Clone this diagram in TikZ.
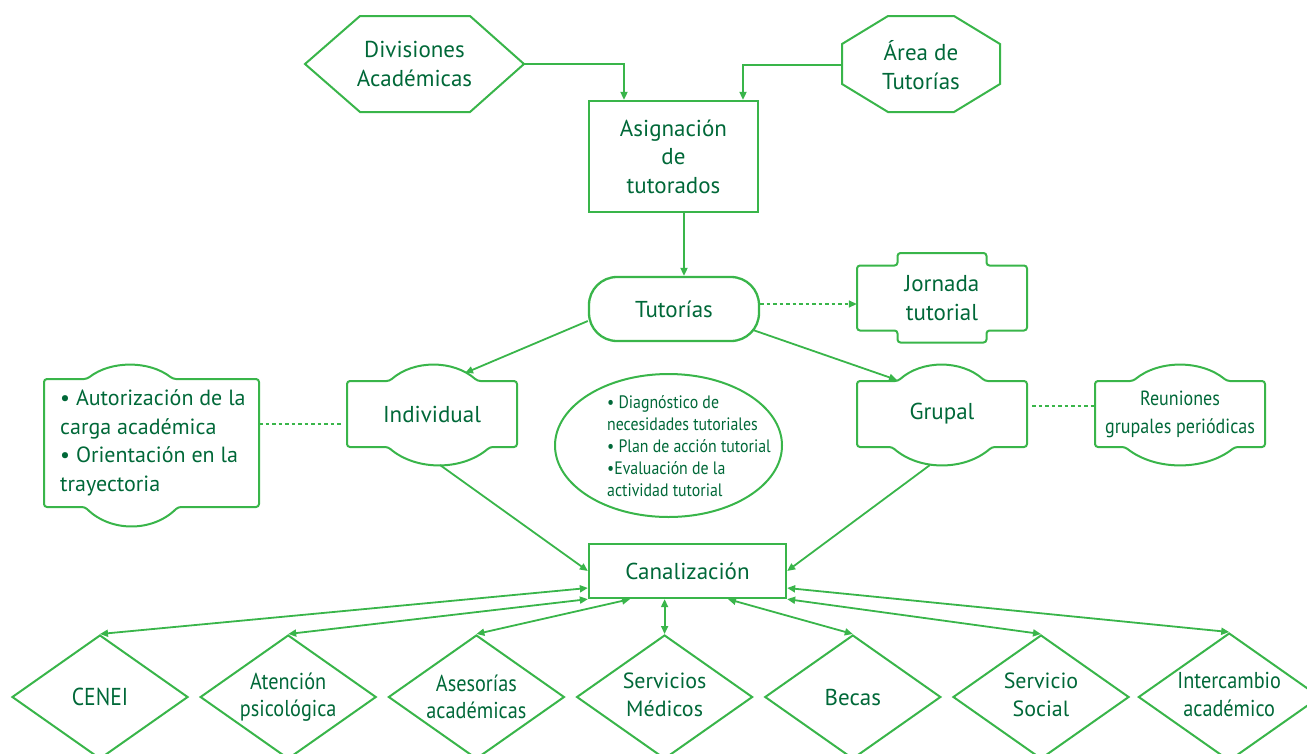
\documentclass[tikz,border=0pt]{standalone}
\usepackage{fontspec}
\setmainfont{PT Sans}
\newfontfamily\cond[FakeStretch=0.88]{PT Sans}
\usetikzlibrary{shapes.geometric,arrows.meta,calc}
\definecolor{lg}{RGB}{57,181,74}
\definecolor{tg}{RGB}{0,104,56}
% #1 node, #2 half width, #3 half height, #4 top bump centre, #5 top bump half width,
% #6 top bump height, #7 bottom bump centre, #8 bottom bump half width, #9 bottom bump height
\newcommand{\bumpbox}[9]{%
 \draw[ln, shift={(#1.center)}, rounded corners=3pt]
  (-#2,-#3) -- ({#4-#5},-#3)
  .. controls ({#4-0.45*#5},{-#3-1.33*#6}) and ({#4+0.45*#5},{-#3-1.33*#6}) .. ({#4+#5},-#3)
  -- (#2,-#3) -- (#2,#3) -- ({#7+#8},#3)
  .. controls ({#7+0.45*#8},{#3+1.33*#9}) and ({#7-0.45*#8},{#3+1.33*#9}) .. ({#7-#8},#3)
  -- (-#2,#3) -- cycle;}
\begin{document}
\begin{tikzpicture}[x=1pt,y=-1pt,
  ln/.style={draw=lg,line width=2pt},
  txt/.style={text=tg, align=center, inner sep=0pt, font=\fontsize{23}{28.5}\selectfont},
  box/.style={txt, draw=lg, line width=2.3pt},
  tip/.style={-{Triangle[length=8pt,width=7pt]}},
  arr/.style={draw=lg, line width=1.8pt, tip},
  barr/.style={draw=lg, line width=1.8pt, {Triangle[length=8pt,width=7pt]}-{Triangle[length=8pt,width=7pt]}},
  dsh/.style={draw=lg, line width=1.5pt, dash pattern=on 3.5pt off 3pt},
  dia/.style={diamond, draw=lg, line width=2pt, minimum width=176pt, minimum height=124pt, inner sep=0pt, shape aspect=1.42, text=tg, align=center, font=\fontsize{22}{27.5}\selectfont},
  cdia/.style={dia, font=\cond\fontsize{23}{27.5}\selectfont},
]
\useasboundingbox (0,0) rectangle (1307,753);

% top shapes
\node[txt, minimum width=219pt, minimum height=96pt] (div) at (414.5,64) {Divisiones\\Académicas};
\draw[ln, shift={(div.center)}] (-109.5,0) -- (-54.5,-48) -- (55.5,-48) -- (109.5,0) -- (55.5,48) -- (-54.5,48) -- cycle;

\node[txt, minimum width=158pt, minimum height=96pt] (area) at (921,65) {Área de\\Tutorías};
\draw[ln, shift={(area.center)}] (-33,-49) -- (33,-49) -- (79,-21) -- (79,19) -- (33,47) -- (-33,47) -- (-79,19) -- (-79,-21) -- cycle;

\node[box, minimum width=169pt, minimum height=111pt] (asig) at (673.5,156.5) {Asignación\\de\\tutorados};

\node[box, rounded corners=28pt, minimum width=170pt, minimum height=64pt] (tut) at (674,309) {Tutorías};

\node[txt, minimum width=170pt, minimum height=65pt] (jor) at (942,298) {Jornada\\tutorial};
\draw[ln, shift={(jor.center)}, rounded corners=3pt] (-85,-32.5) -- (-44.5,-32.5) -- (-44.5,-45) -- (44.5,-45) -- (44.5,-32.5) -- (85,-32.5) -- (85,32.5) -- (44.5,32.5) -- (44.5,44.5) -- (-44.5,44.5) -- (-44.5,32.5) -- (-85,32.5) -- cycle;

% middle row
\node[txt, minimum width=215pt, minimum height=128pt] (lb) at (151.5,443) {};
\node[txt, align=left, anchor=west, font=\fontsize{22}{28.5}\selectfont] (lbt) at (60,443) {• Autorización de la\\carga académica\\• Orientación en la\\trayectoria};
\bumpbox{lb}{107.5}{64}{-21.5}{43}{14}{-20}{46.5}{19}

\node[txt, minimum width=170pt, minimum height=66pt] (ind) at (432,414) {Individual};
\bumpbox{ind}{85}{33}{1.5}{44}{16}{7}{51}{18}

\node[txt, minimum width=170pt, minimum height=66pt] (grp) at (942,414) {Grupal};
\bumpbox{grp}{85}{33}{-0.5}{43.5}{16}{0}{50}{18}

\node[txt, minimum width=170pt, minimum height=66pt, font=\cond\fontsize{20.5}{28}\selectfont] (reu) at (1180,414) {Reuniones\\grupales periódicas};
\bumpbox{reu}{85}{33}{0}{47}{16}{0}{55}{18}

\node[ellipse, draw=lg, line width=2pt, minimum width=227pt, minimum height=143pt, inner sep=0pt] (ell) at (668.5,445.5) {};
\node[text=tg, align=left, anchor=west, inner sep=0pt, font=\cond\fontsize{18}{22}\selectfont] (elltxt) at (607,446) {• Diagnóstico de\\necesidades tutoriales\\• Plan de acción tutorial\\•Evaluación de la\\actividad tutorial};

\node[box, minimum width=197pt, minimum height=54pt] (can) at (687.5,571) {Canalización};

% diamonds
\node[cdia, font=\cond\fontsize{24.5}{27.5}\selectfont] (d1) at (100,697) {CENEI};
\node[cdia] (d2) at (288.2,697) {Atención\\psicológica};
\node[cdia] (d3) at (476.4,697) {Asesorías\\académicas};
\node[dia] (d4) at (664.6,697) {\raisebox{3pt}{\begin{tabular}{@{}c@{}}Servicios\\Médicos\end{tabular}}};
\node[dia, font=\fontsize{23}{27.5}\selectfont] (d5) at (852.8,697) {Becas};
\node[dia] (d6) at (1041,697) {\raisebox{-2pt}{\begin{tabular}{@{}c@{}}Servicio\\Social\end{tabular}}};
\node[cdia] (d7) at (1229.2,697) {\raisebox{-7pt}{\begin{tabular}{@{}c@{}}Intercambio\\académico\end{tabular}}};

% connectors
\draw[arr] (div.east) -| ([xshift=-49.5pt]asig.north);
\draw[arr] (area.west) -| ([xshift=69.5pt]asig.north);
\coordinate (a1) at ([xshift=10.5pt]asig.south);
\draw[arr] (a1) -- (a1 |- tut.north);
\coordinate (t1) at ([yshift=5pt]tut.east);
\draw[dsh, tip] (t1) -- (t1 -| jor.west);
\draw[arr] ([yshift=-12pt]tut.west) -- ([xshift=33pt,yshift=41pt]ind.center);
\draw[arr] ([xshift=79pt,yshift=-21pt]tut.center) -- ([xshift=-45pt,yshift=34pt]grp.center);
\coordinate (iL) at ([yshift=-10pt]ind.west);
\draw[dsh] (iL -| lb.east) -- ([xshift=-5pt]iL);
\coordinate (gR) at ([yshift=8pt]grp.east);
\draw[dsh] ([xshift=5pt]gR) -- (gR -| reu.west);
\draw[arr] ([xshift=8pt,yshift=-51pt]ind.center) -- (can.west);
\draw[arr] ([xshift=-12pt,yshift=-51pt]grp.center) -- (can.east);

\draw[barr] (d1.north) -- ([yshift=-17pt]can.west);
\draw[barr] (d2.north) -- (can.south west);
\draw[barr] (d3.north) -- ([xshift=-57.5pt]can.south);
\draw[barr] (d4.north) -- (d4.north |- can.south);
\draw[barr] (d5.north) -- ([xshift=40.5pt]can.south);
\draw[barr] (d6.north) -- (can.south east);
\draw[barr] (d7.north) -- ([yshift=-17pt]can.east);
\end{tikzpicture}
\end{document}
